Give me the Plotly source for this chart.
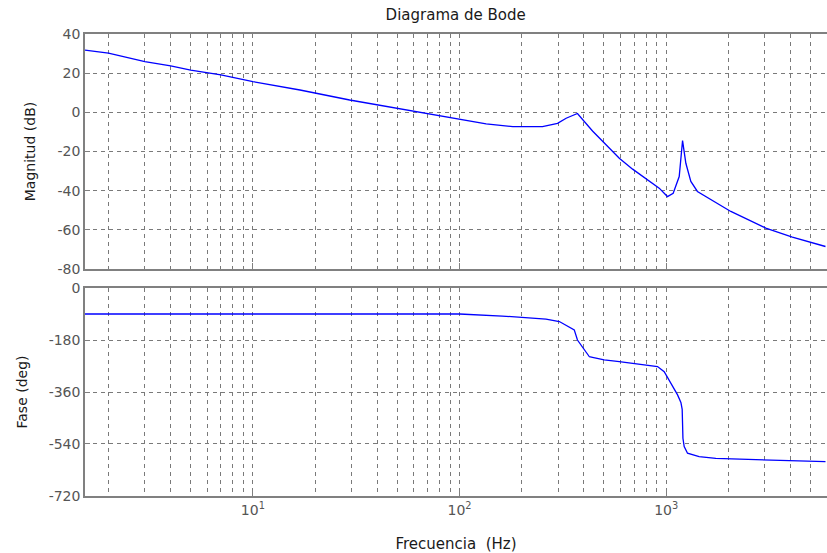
import plotly.graph_objects as go
import numpy as np

# Magnitude data (Hz, dB)
freq_mag = [1.54, 2.0, 3.0, 4.0, 5.0, 7.0, 10, 16.9, 29.4, 69, 100, 134.5, 181, 252,
            298, 328, 372, 440, 593, 688, 925, 1014, 1081, 1156, 1200, 1245, 1316,
            1416, 2055, 3034, 4078, 5900]
mag_db = [31.8, 30.2, 25.9, 23.7, 21.6, 19.1, 15.7, 11.4, 6.3, -0.5, -3.5, -5.9, -7.3,
          -7.3, -5.6, -3.0, -0.6, -9.5, -23.4, -29.0, -38.7, -43.0, -41.3, -32.8,
          -14.4, -26.0, -35.3, -40.4, -50.6, -59.1, -63.7, -68.5]

# Phase data (Hz, deg)
freq_ph = [1.54, 10, 100, 161, 262, 304, 328, 359, 372, 397, 425, 440, 475, 501, 593,
           700, 827, 908, 978, 1054, 1135, 1178, 1195, 1205, 1222, 1268, 1443, 1738,
           2813, 4393, 5900]
phase_deg = [-90, -90, -90, -97, -108, -116, -128, -145, -180, -209, -238, -240, -245,
             -249, -255, -261, -266, -272, -290, -330, -370, -396, -420, -520, -549,
             -572, -584, -590, -595, -599, -601]

mag_ticks = [40, 20, 0, -20, -40, -60, -80]
mag_labels = ["40", "20", "0", "-20", "-40", "-60", "-80"]
phase_ticks = [0, -180, -360, -540, -720]
phase_labels = ["0", "-180", "-360", "-540", "-720"]
decade_ticks = [10, 100, 1000]
decade_labels = ["10<sup>1</sup>", "10<sup>2</sup>", "10<sup>3</sup>"]
minor_vals = [m * d for d in [1, 10, 100, 1000] for m in range(2, 10)]

grid_col = "#7a7a7a"
axis_col = "#808080"
txt_col = "#555555"
lab_col = "#1a1a1a"
font_fam = "DejaVu Sans, Verdana, sans-serif"

fig = go.Figure()
fig.add_trace(go.Scatter(x=freq_mag, y=mag_db, mode="lines",
                         line=dict(color="#0000ff", width=1.3),
                         xaxis="x", yaxis="y", showlegend=False))
fig.add_trace(go.Scatter(x=freq_ph, y=phase_deg, mode="lines",
                         line=dict(color="#0000ff", width=1.3),
                         xaxis="x2", yaxis="y2", showlegend=False))

xcommon = dict(type="log", range=[np.log10(1.54), np.log10(6000)],
               showline=True, linecolor=axis_col, linewidth=1.5, mirror=True,
               showgrid=True, gridcolor=grid_col, griddash="4px,4px", gridwidth=1,
               tickvals=decade_ticks, ticks="inside", ticklen=6, tickcolor=axis_col,
               minor=dict(tickvals=minor_vals, showgrid=True, gridcolor=grid_col,
                          griddash="4px,4px", gridwidth=1, ticks=""),
               zeroline=False, automargin=False)

ycommon = dict(showline=True, linecolor=axis_col, linewidth=1.5, mirror=False,
               showgrid=True, gridcolor=grid_col, griddash="4px,4px", gridwidth=1,
               ticks="inside", ticklen=5, tickcolor=axis_col, zeroline=False,
               automargin=False, tickfont=dict(size=14, color=txt_col))

fig.update_layout(
    width=827, height=553,
    margin=dict(l=85, r=0, t=34, b=57),
    paper_bgcolor="white", plot_bgcolor="white",
    font=dict(family=font_fam, size=14, color=txt_col),
    title=dict(text="Diagrama de Bode", x=0.551, xanchor="center", y=0.973, yanchor="middle",
               font=dict(size=15, color=lab_col)),
    xaxis=dict(**xcommon, domain=[0, 1], anchor="y", showticklabels=False,
               ticktext=decade_labels),
    yaxis=dict(**ycommon, domain=[0.4913, 1], range=[-80, 40], tickvals=mag_ticks,
               ticktext=mag_labels,
               title=dict(text="Magnitud (dB)", standoff=19,
                          font=dict(size=14, color=lab_col)),
               anchor="x"),
    xaxis2=dict(**xcommon, domain=[0, 1], anchor="y2", ticktext=decade_labels,
                tickfont=dict(size=14, color=txt_col),
                title=dict(text="Frecuencia  (Hz)", standoff=22,
                           font=dict(size=15, color=lab_col))),
    yaxis2=dict(**ycommon, domain=[0, 0.4502], range=[-720, 0], tickvals=phase_ticks,
                ticktext=phase_labels,
                title=dict(text="Fase (deg)", standoff=18,
                           font=dict(size=14, color=lab_col)),
                anchor="x2"),
)

fig.write_html("out.html", config={"displayModeBar": False},
               post_script="document.body.style.margin='0px';")
